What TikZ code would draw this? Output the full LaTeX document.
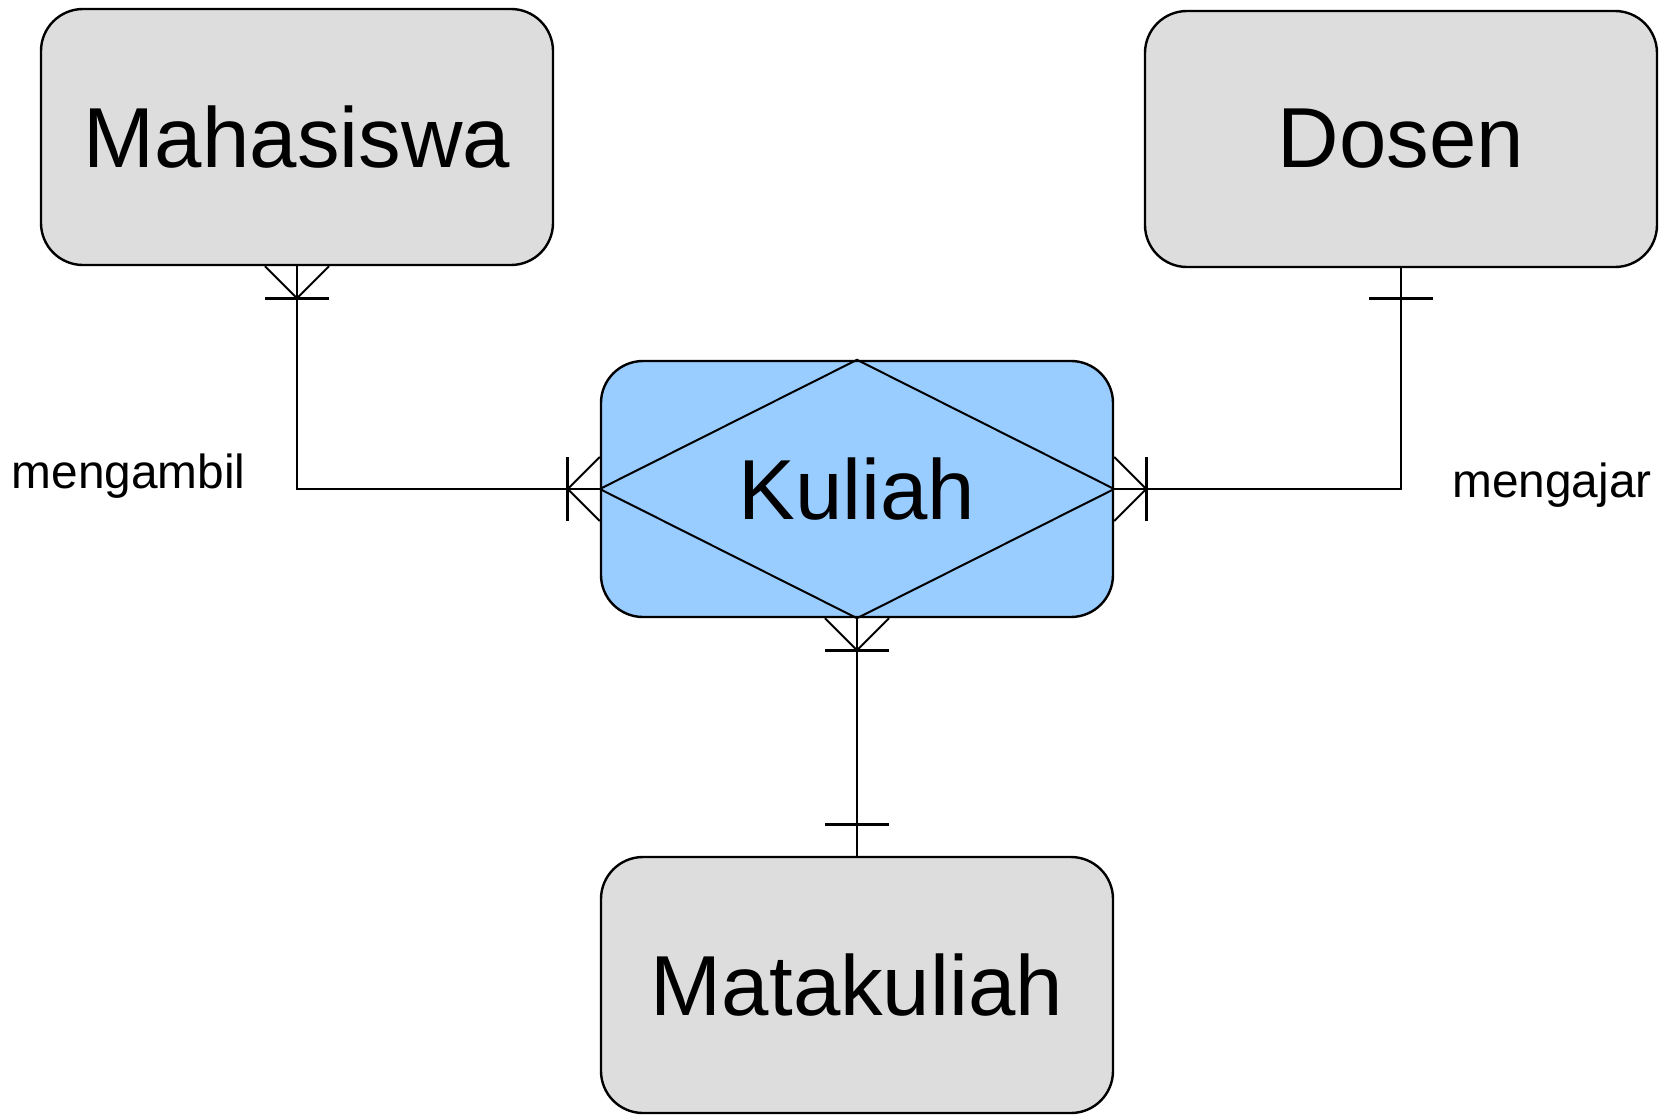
\documentclass[tikz,border=0pt]{standalone}
\usepackage{fontspec}
\setmainfont{Liberation Sans}
\usetikzlibrary{calc}
\definecolor{entgray}{HTML}{DDDDDD}
\definecolor{assocblue}{HTML}{99CCFF}

\tikzset{
	entity/.style={draw, line width=1.2pt, rounded corners=21pt, fill=entgray,
		minimum width=256pt, minimum height=128pt, inner sep=0pt,
		font=\fontsize{42.6}{50}\selectfont},
	assoc/.style={entity, fill=assocblue},
	rel/.style={line width=1pt},
	bar/.style={line width=1.5pt},
	rolename/.style={font=\fontsize{23.9}{28}\selectfont, inner sep=0pt}
}

\begin{document}
\begin{tikzpicture}[x=0.5pt,y=-0.5pt]
	\useasboundingbox (0,0) rectangle (1667,1115);
	
	\node[entity] (mhs) at (297,137) {Mahasiswa};
	\node[entity] (dsn) at (1401,139) {Dosen};
	\node[assoc] (kul) at (857,489) {};
	\node[entity] (mtk) at (857,985) {Matakuliah};
	
	% diamond in the associative entity
	\draw[rel] (kul.north) -- (kul.west) -- (kul.south) -- (kul.east) -- cycle;
	\node[font=\fontsize{42.6}{50}\selectfont] (kultxt) at (kul) {Kuliah};
	
	% relationships
	\draw[rel] (mhs.south) |- (kul.west);
	\draw[rel] (dsn.south) |- (kul.east);
	\draw[rel] (kul.south) -- (mtk.north);
	
	% many side at Mahasiswa
	\draw[rel] ($(mhs.south)+(-32,0)$) -- ($(mhs.south)+(0,32)$) -- ($(mhs.south)+(32,0)$);
	\draw[bar] ($(mhs.south)+(-32,32)$) -- ($(mhs.south)+(32,32)$);
	% many side at Kuliah, left
	\draw[rel] ($(kul.west)+(0,-32)$) -- ($(kul.west)+(-32,0)$) -- ($(kul.west)+(0,32)$);
	\draw[bar] ($(kul.west)+(-32,-32)$) -- ($(kul.west)+(-32,32)$);
	% many side at Kuliah, right
	\draw[rel] ($(kul.east)+(0,-32)$) -- ($(kul.east)+(32,0)$) -- ($(kul.east)+(0,32)$);
	\draw[bar] ($(kul.east)+(32,-32)$) -- ($(kul.east)+(32,32)$);
	% many side at Kuliah, bottom
	\draw[rel] ($(kul.south)+(-32,0)$) -- ($(kul.south)+(0,32)$) -- ($(kul.south)+(32,0)$);
	\draw[bar] ($(kul.south)+(-32,32)$) -- ($(kul.south)+(32,32)$);
	
	% one side
	\draw[bar] ($(dsn.south)+(-32,30)$) -- ($(dsn.south)+(32,30)$);
	\draw[bar] ($(mtk.north)+(-32,-31)$) -- ($(mtk.north)+(32,-31)$);
	
	\node[rolename, anchor=east] (ambil) at (246,476) {mengambil};
	\node[rolename, anchor=east] (ajar) at (1652,485) {mengajar};
	
\end{tikzpicture}
\end{document}
